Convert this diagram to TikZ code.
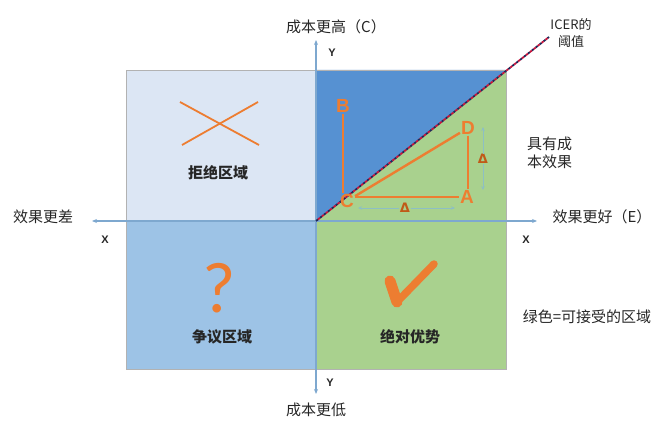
\documentclass[tikz,border=0pt]{standalone}
\usepackage{fontspec}
\setmainfont{Liberation Sans}
\newfontfamily\cjk{Noto Sans CJK SC}
\newfontfamily\djv{DejaVu Sans}
\newfontfamily\carlfont{Carlito}
\usetikzlibrary{arrows.meta}
\definecolor{qTL}{HTML}{DCE6F4}
\definecolor{qTR}{HTML}{5691D2}
\definecolor{qBL}{HTML}{9DC3E6}
\definecolor{qG}{HTML}{A9D18E}
\definecolor{axisc}{HTML}{7EA8CF}
\definecolor{orng}{HTML}{ED7D31}
\definecolor{dorng}{HTML}{C05A18}
\definecolor{icerred}{HTML}{C8143C}
\definecolor{icernavy}{HTML}{1F2A5A}
\definecolor{deltac}{HTML}{8DBFC4}
\begin{document}
\begin{tikzpicture}[x=1pt,y=-1pt,
  axis/.style={draw=axisc, line width=1.1pt, -{Stealth[length=5pt,width=4pt]}},
  cn/.style={font=\cjk\fontsize{15}{18}\selectfont, text=black!85, inner sep=1pt},
  cnb/.style={font=\cjk\bfseries\fontsize{15}{18}\selectfont, text=black!85, inner sep=1pt},
  xy/.style={font=\bfseries\fontsize{11}{12}\selectfont, text=black!85, inner sep=1pt},
  letter/.style={font=\bfseries\fontsize{19}{22}\selectfont, text=orng, inner sep=1pt},
  oline/.style={draw=orng, line width=2.4pt},
  delta/.style={font=\djv\bfseries\fontsize{13}{14}\selectfont, text=dorng, inner sep=0.5pt},
  darr/.style={draw=deltac, line width=1pt, -{Stealth[length=4pt,width=3.5pt]}},
  border/.style={draw=black!30, line width=0.6pt}]
\useasboundingbox (0,0) rectangle (667,425);
% quadrants
\fill[qTL] (126,70) rectangle (316,221);
\fill[qBL] (126,221) rectangle (316,369);
\fill[qG] (316,221) rectangle (506,369);
\fill[qG] (316,221) -- (506,70) -- (506,221) -- cycle;
\fill[qTR] (316,221) -- (316,70) -- (506,70) -- cycle;
\draw[border] (126,70) rectangle (506,369);
% axes
\coordinate (O) at (316,221);
\coordinate (xL) at (92,221);
\coordinate (xR) at (537,221);
\coordinate (yT) at (316,40);
\coordinate (yB) at (316,394);
\draw[axis] (O) -- (xL);
\draw[axis] (O) -- (xR);
\draw[axis] (O) -- (yT);
\draw[axis] (O) -- (yB);
% ICER line
\coordinate (icerEnd) at (549,37);
\draw[icernavy, line width=1.8pt, dash pattern=on 2.5pt off 2.5pt] (O) -- (icerEnd);
\draw[icerred, line width=1.8pt, dash pattern=on 2.5pt off 2.5pt, dash phase=2.5pt] (O) -- (icerEnd);
\node[cn, align=center, font=\cjk\fontsize{13}{17}\selectfont] (icer) at (571,33) {ICER的\\阈值};
% axis labels
\node[cn] (worse) at (43,217) {效果更差};
\node[cn] (better) at (602,217) {效果更好（E）};
\node[cn] (high) at (336,27) {成本更高（C）};
\node[cn] (low) at (316,410) {成本更低};
\node[xy] (xl) at (105,240) {X};
\node[xy] (xr) at (526,240) {X};
\node[xy] (yt) at (332,53) {Y};
\node[xy] (yb) at (330,383) {Y};
% reject region
\coordinate (x1) at (180,102);
\coordinate (x2) at (259,145);
\coordinate (x3) at (182,145);
\coordinate (x4) at (258,102);
\draw[draw=orng, line width=1.8pt] (x1) -- (x2);
\draw[draw=orng, line width=1.8pt] (x3) -- (x4);
\node[cnb] (reject) at (218,173) {拒绝区域};
% controversial region
\node[font=\carlfont\fontsize{72}{72}\selectfont, text=orng] (qm) at (219,288) {?};
\node[cnb] (contro) at (222,337) {争议区域};
% dominant region
\coordinate (c1) at (390,281);
\coordinate (c2) at (397,302);
\coordinate (c3) at (434,264);
\draw[orng, line width=11pt, line cap=round] (c1) -- (c2);
\draw[orng, line width=7.5pt, line cap=round] (c2) -- (c3);
\node[cnb] (dom) at (410,337) {绝对优势};
% triangle
\node[letter] (ptB) at (343,106) {B};
\node[letter] (ptC) at (347,201) {C};
\node[letter] (ptD) at (468,128) {D};
\node[letter] (ptA) at (467,197) {A};
\draw[oline] (ptB.south) -- (ptB.south |- ptC.north);
\draw[oline] (ptC) -- (ptD);
\draw[oline] (ptC.east |- ptA.west) -- (ptA.west);
\draw[oline] (ptD.south) -- (ptD.south |- ptA.north);
% delta arrows
\coordinate (h1) at (358,208);
\coordinate (h2) at (455,208);
\node[delta] (dH) at (405,208) {Δ};
\draw[darr] (dH.west) -- (h1);
\draw[darr] (dH.east) -- (h2);
\coordinate (v1) at (483,127);
\coordinate (v2) at (483,190);
\node[delta] (dV) at (483,159) {Δ};
\draw[darr] (dV.north) -- (v1);
\draw[darr] (dV.south) -- (v2);
% right labels
\node[cn, align=left, anchor=west] (ce) at (526,153) {具有成\\本效果};
\node[cn] (green) at (587,317) {绿色=可接受的区域};
\end{tikzpicture}
\end{document}
